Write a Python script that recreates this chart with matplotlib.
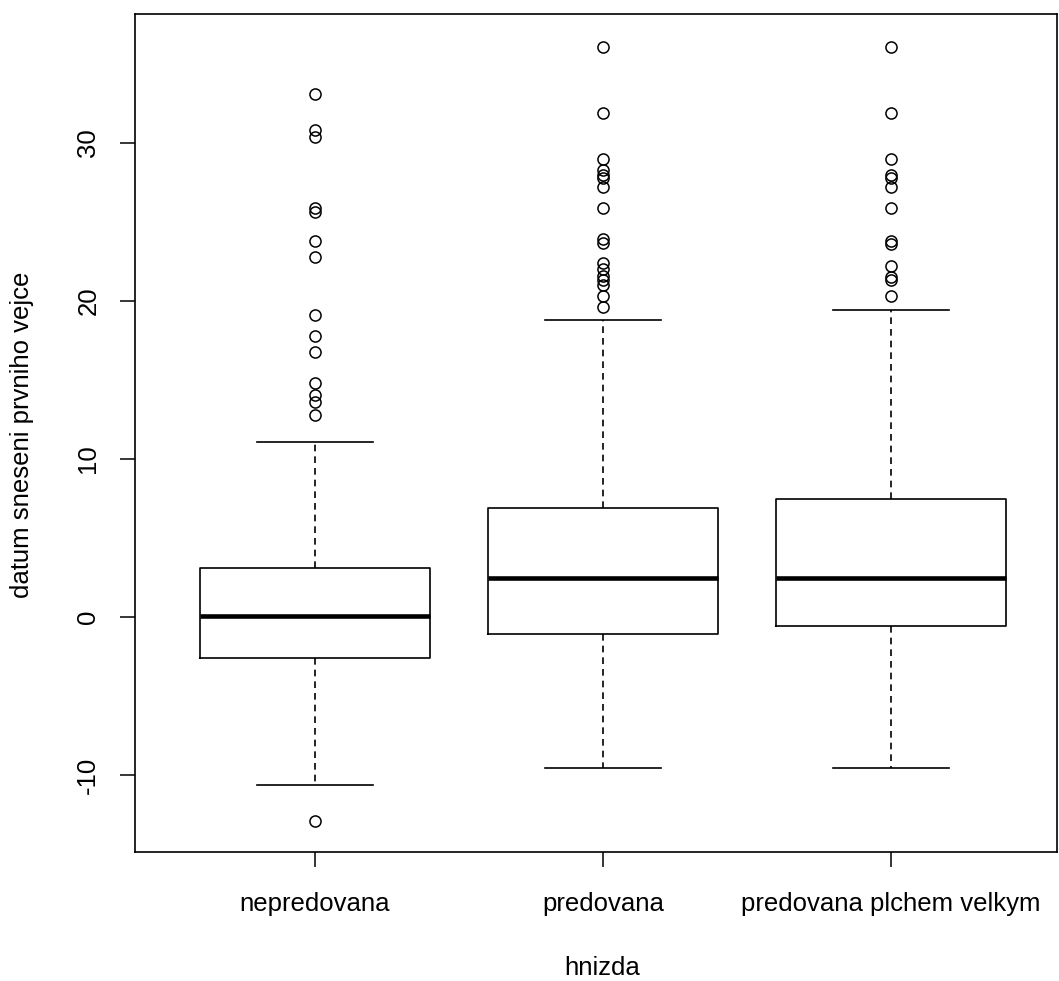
import matplotlib
matplotlib.use("Agg")
import matplotlib.pyplot as plt

plt.rcParams["font.family"] = ["Liberation Sans", "DejaVu Sans"]

groups = ["nepredovana", "predovana", "predovana plchem velkym"]

# whisker low, Q1, median, Q3, whisker high
whislo = [-10.6, -9.55, -9.55]
q1 = [-2.6, -1.08, -0.57]
med = [0.06, 2.47, 2.47]
q3 = [3.1, 6.9, 7.47]
whishi = [11.1, 18.8, 19.4]

fliers = [
    [33.1, 30.8, 30.4, 25.9, 25.6, 23.8, 22.8, 19.1, 17.8, 16.8, 14.8,
     14.05, 13.6, 12.8, -12.9],
    [36.1, 31.9, 29.0, 28.3, 28.0, 27.8, 27.2, 25.9, 23.9, 23.7, 22.4,
     22.0, 21.6, 21.3, 21.0, 20.3, 19.6],
    [36.1, 31.9, 29.0, 28.0, 27.8, 27.2, 25.9, 23.8, 23.6, 22.2, 21.5,
     21.3, 20.3],
]

stats = []
for i, name in enumerate(groups):
    stats.append(dict(label=name, whislo=whislo[i], q1=q1[i], med=med[i],
                      q3=q3[i], whishi=whishi[i], fliers=fliers[i]))

fig = plt.figure(figsize=(10.59, 9.81), dpi=100)
ax = fig.add_axes([135 / 1059, 1 - 852 / 981, 922 / 1059, 838 / 981])

ax.bxp(stats, positions=[1, 2, 3], widths=0.8, showfliers=True,
       boxprops=dict(color="black", linewidth=1.2),
       medianprops=dict(color="black", linewidth=3.3, solid_capstyle="butt"),
       whiskerprops=dict(color="black", linewidth=1.2, linestyle=(0, (4, 3))),
       capprops=dict(color="black", linewidth=1.2),
       capwidths=0.4,
       flierprops=dict(marker="o", markerfacecolor="none",
                       markeredgecolor="black", markersize=8,
                       markeredgewidth=1.1))

ax.set_xlim(0.375, 3.576)
ax.set_ylim(-14.87, 38.16)
ax.set_yticks([-10, 0, 10, 20, 30])
ax.set_yticklabels(["-10", "0", "10", "20", "30"], rotation=90, va="center")
ax.set_xticks([1, 2, 3])
ax.set_xticklabels(groups)
ax.tick_params(axis="both", direction="out", length=11, width=1.1,
               labelsize=18.5, pad=14)
ax.tick_params(axis="x", pad=18)
for s in ax.spines.values():
    s.set_linewidth(1.2)

ax.set_xlabel("hnizda", fontsize=18.5, va="center")
ax.xaxis.set_label_coords((602 - 135) / 922, (852 - 968) / 838)
ax.set_ylabel("datum sneseni prvniho vejce", fontsize=18.5, va="center")
ax.yaxis.set_label_coords((22 - 135) / 922, (852 - 435) / 838)

fig.savefig("out.png", dpi=100)
